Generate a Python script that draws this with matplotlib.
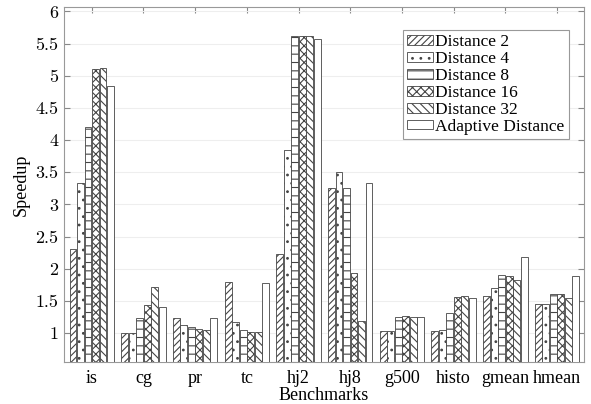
import numpy as np
import matplotlib
matplotlib.use("Agg")
import matplotlib.pyplot as plt
from matplotlib.patches import Patch

plt.rcParams['hatch.linewidth'] = 0.8
plt.rcParams['font.family'] = 'Liberation Serif'

benchmarks = ['is', 'cg', 'pr', 'tc', 'hj2', 'hj8', 'g500', 'histo', 'gmean', 'hmean']
series = ['Distance 2', 'Distance 4', 'Distance 8', 'Distance 16', 'Distance 32', 'Adaptive Distance']

dist2 = [2.31, 1.00, 1.23, 1.79, 2.23, 3.26, 1.03, 1.03, 1.58, 1.45]
dist4 = [3.33, 1.00, 1.13, 1.17, 3.85, 3.50, 1.03, 1.05, 1.70, 1.45]
dist8 = [4.21, 1.24, 1.09, 1.04, 5.61, 3.25, 1.25, 1.31, 1.90, 1.60]
dist16 = [5.10, 1.43, 1.06, 1.02, 5.61, 1.94, 1.26, 1.56, 1.88, 1.61]
dist32 = [5.12, 1.72, 1.04, 1.02, 5.61, 1.18, 1.25, 1.58, 1.82, 1.54]
adaptive = [4.84, 1.41, 1.23, 1.77, 5.57, 3.33, 1.25, 1.54, 2.18, 1.88]

values = [dist2, dist4, dist8, dist16, dist32, adaptive]
hatches = ['/////', '..', '--', 'xxxx', '\\\\\\\\', '']

fig = plt.figure(figsize=(5.91, 4.04), dpi=100)
ax = fig.add_axes([0.108, 0.104, 0.880, 0.879])

x = np.arange(len(benchmarks))
width = 0.145
for i, (vals, h) in enumerate(zip(values, hatches)):
    offs = (i - 2.5) * width
    ax.bar(x + offs, vals, width * 0.92, facecolor='white', edgecolor='#444444',
           hatch=h, linewidth=0.6, zorder=3)

ax.set_xlim(-0.54, 9.52)
ax.set_ylim(0.55, 6.07)
ax.set_xticks(x)
ax.set_xticklabels(benchmarks, fontsize=13)
yt = np.arange(1, 6.01, 0.5)
ax.set_yticks(yt)
ax.set_yticklabels(['%g' % v for v in yt], fontsize=13, family='cmr10')
ax.tick_params(direction='in', top=True, right=True, length=4, color='#888888', pad=4)
ax.tick_params(axis='x', pad=6)
ax.grid(axis='y', color='#eeeeee', linewidth=0.8, zorder=0)
for s in ax.spines.values():
    s.set_color('#999999')

ax.set_xlabel('Benchmarks', fontsize=13, labelpad=0)
ax.set_ylabel('Speedup', fontsize=13, labelpad=4)

handles = [Patch(facecolor='white', edgecolor='#444444', hatch=h, linewidth=0.6) for h in hatches]
leg = ax.legend(handles, series, loc='upper right', bbox_to_anchor=(0.971, 0.935),
                borderaxespad=0, fontsize=12.5, fancybox=False, edgecolor='#999999',
                handlelength=1.5, handleheight=0.5, handletextpad=0.1, labelspacing=0.05,
                borderpad=0.25, framealpha=1)
leg.get_frame().set_linewidth(0.8)

fig.savefig('out.png', dpi=100)
